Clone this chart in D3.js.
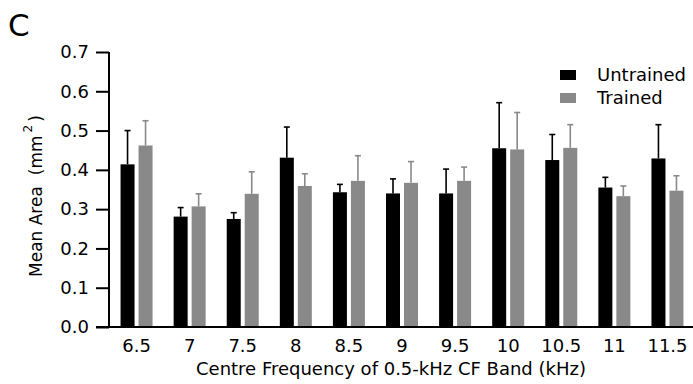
<!DOCTYPE html>
<html>
<head>
<meta charset="utf-8">
<script src="https://cdn.jsdelivr.net/npm/d3@7"></script>
<style>
  body { margin: 0; background: #fff; }
  text { font-family: "DejaVu Sans", Verdana, sans-serif; fill: #000; }
</style>
</head>
<body>
<div id="chart"></div>
<script>
// Données
const bands = ["6.5", "7", "7.5", "8", "8.5", "9", "9.5", "10", "10.5", "11", "11.5"];
const series = ["Untrained", "Trained"];
const untrainedMean = [0.414, 0.281, 0.275, 0.431, 0.343, 0.340, 0.340, 0.455, 0.425, 0.355, 0.429];
const untrainedErr  = [0.086, 0.023, 0.016, 0.078, 0.020, 0.037, 0.062, 0.116, 0.065, 0.026, 0.086];
const trainedMean   = [0.462, 0.307, 0.339, 0.359, 0.372, 0.367, 0.372, 0.452, 0.456, 0.333, 0.347];
const trainedErr    = [0.063, 0.032, 0.056, 0.031, 0.064, 0.054, 0.035, 0.094, 0.059, 0.026, 0.038];
const yTicks = [0, 0.1, 0.2, 0.3, 0.4, 0.5, 0.6, 0.7];
const colors = { Untrained: "#000000", Trained: "#898989" };

const width = 693;
const height = 384;

const svg = d3.select("#chart").append("svg")
  .attr("width", width)
  .attr("height", height);

const y = d3.scaleLinear().domain([0, 0.7]).range([327, 52]);
const x0 = d3.scaleBand().domain(bands).range([110, 694]);
const x1 = d3.scaleBand().domain(series).range([-16, 16]).paddingInner(0.222);

// table pour le dessin
const rows = [];
bands.forEach((b, i) => {
  rows.push({ band: b, s: "Untrained", mean: untrainedMean[i], err: untrainedErr[i] });
  rows.push({ band: b, s: "Trained", mean: trainedMean[i], err: trainedErr[i] });
});
const cx = d => x0(d.band) + x0.bandwidth() / 2 + x1(d.s);

// barres d'erreur (vers le haut seulement)
const err = svg.append("g").selectAll("g").data(rows).join("g");
err.append("line")
  .attr("x1", d => cx(d) + x1.bandwidth() / 2)
  .attr("x2", d => cx(d) + x1.bandwidth() / 2)
  .attr("y1", d => y(d.mean))
  .attr("y2", d => y(d.mean + d.err))
  .attr("stroke", d => colors[d.s])
  .attr("stroke-width", 1.6);
err.append("line")
  .attr("x1", d => cx(d) + x1.bandwidth() / 2 - 3)
  .attr("x2", d => cx(d) + x1.bandwidth() / 2 + 3)
  .attr("y1", d => y(d.mean + d.err))
  .attr("y2", d => y(d.mean + d.err))
  .attr("stroke", d => colors[d.s])
  .attr("stroke-width", 1.6);

svg.append("g").selectAll("rect").data(rows).join("rect")
  .attr("x", d => cx(d))
  .attr("width", x1.bandwidth())
  .attr("y", d => y(d.mean))
  .attr("height", d => y(0) - y(d.mean))
  .attr("fill", d => colors[d.s]);

// axe Y
const yAxis = svg.append("g")
  .attr("transform", "translate(109,0)")
  .call(d3.axisLeft(y).tickValues(yTicks).tickFormat(d3.format(".1f")).tickSize(13).tickPadding(7));
yAxis.select(".domain").attr("d", "M0,52V327").attr("stroke-width", 2);
yAxis.selectAll(".tick line").attr("stroke-width", 2);
yAxis.selectAll("text").style("font-size", "18px");

// axe X
svg.append("line")
  .attr("x1", 96).attr("x2", 693)
  .attr("y1", y(0)).attr("y2", y(0))
  .attr("stroke", "#000").attr("stroke-width", 2);
const xAxis = svg.append("g")
  .attr("transform", `translate(0,${y(0)})`)
  .call(d3.axisBottom(x0).tickSize(0).tickPadding(12));
xAxis.select(".domain").remove();
xAxis.selectAll("text").style("font-size", "18px");

svg.append("text")
  .attr("x", 391).attr("y", 375)
  .attr("text-anchor", "middle")
  .style("font-size", "18px")
  .text("Centre Frequency of 0.5-kHz CF Band (kHz)");

const yl = svg.append("text")
  .attr("transform", "translate(42,277) rotate(-90)")
  .attr("text-anchor", "start")
  .style("font-size", "17px");
yl.append("tspan").text("Mean Area");
yl.append("tspan").attr("dx", 11).text("(mm");
yl.append("tspan").attr("dx", 3).attr("dy", -10).style("font-size", "12px").text("2");
yl.append("tspan").attr("dx", 3).attr("dy", 10).text(")");

svg.append("text")
  .attr("x", 8).attr("y", 36)
  .style("font-size", "31px")
  .text("C");

// légende
const leg = svg.append("g").selectAll("g").data(series).join("g")
  .attr("transform", (d, i) => `translate(560,${70 + i * 23})`);
leg.append("rect")
  .attr("width", 16).attr("height", 10)
  .attr("fill", d => colors[d]);
leg.append("text")
  .attr("x", 37).attr("y", 11)
  .style("font-size", "18px")
  .text(d => d);
</script>
</body>
</html>
